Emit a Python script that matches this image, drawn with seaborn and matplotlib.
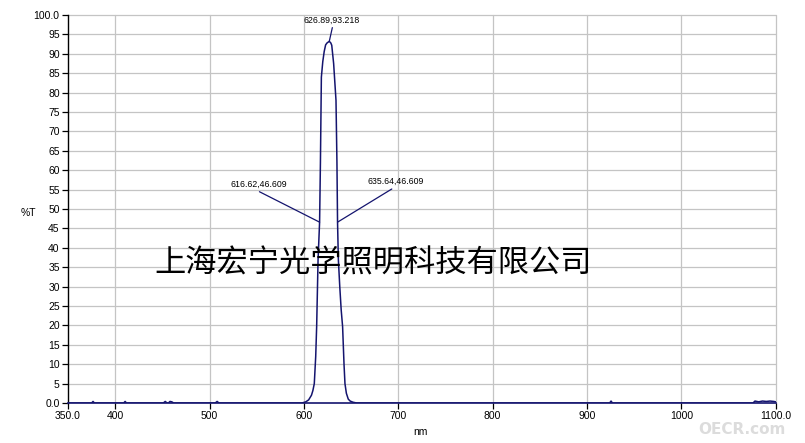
import matplotlib
matplotlib.use("Agg")
import matplotlib.pyplot as plt
import seaborn as sns
import pandas as pd

# Spectre de transmission
wavelength = [350, 375, 376.5, 378, 409, 410.5, 412, 451, 453, 455, 456.5, 458, 460, 462,
              506, 508, 510, 598, 602, 605, 608, 609.5, 611, 612.5, 613.5, 615, 616.62,
              617.5, 618.5, 620, 621.5, 623, 624.5, 626.89, 628.5, 629.5, 631.5, 634,
              635, 635.64, 636.5, 638, 639.5, 641, 642.5, 643.5, 645, 647, 649, 652, 656,
              700, 924, 925.5, 927, 1076, 1078, 1082, 1086, 1090, 1094, 1098, 1100]
transmission = [0.0, 0.0, 0.4, 0.0, 0.0, 0.4, 0.0, 0.0, 0.4, 0.0, 0.0, 0.4, 0.3, 0.0,
                0.0, 0.4, 0.0, 0.0, 0.3, 0.8, 2.0, 3.2, 5.0, 12.0, 19.7, 37.0, 46.609,
                62.0, 84.0, 88.0, 90.6, 92.3, 92.8, 93.218, 92.8, 92.2, 87.5, 78.0,
                62.0, 46.609, 37.0, 30.0, 24.0, 19.7, 10.0, 5.0, 2.5, 1.0, 0.5, 0.2, 0.0,
                0.0, 0.0, 0.5, 0.0, 0.0, 0.5, 0.3, 0.5, 0.4, 0.5, 0.4, 0.3]

x_ticks = [350, 400, 500, 600, 700, 800, 900, 1000, 1100]
x_labels = ["350.0", "400", "500", "600", "700", "800", "900", "1000", "1100.0"]
y_ticks = list(range(0, 105, 5))
y_labels = ["0.0"] + [str(v) for v in range(5, 100, 5)] + ["100.0"]

# pic et points a mi-hauteur
peak = (626.89, 93.218)
half_left = (616.62, 46.609)
half_right = (635.64, 46.609)

company = "上海宏宁光学照明科技有限公司"

sns.set_style("white")
plt.rcParams["font.family"] = ["Liberation Sans", "DejaVu Sans"]
plt.rcParams["text.color"] = "black"
plt.rcParams["xtick.color"] = "black"
plt.rcParams["ytick.color"] = "black"

df = pd.DataFrame({"nm": wavelength, "T": transmission})

fig = plt.figure(figsize=(8.05, 4.43), dpi=100)
ax = fig.add_axes([0.0845, 0.0903, 0.8791, 0.8758])

for x in x_ticks[1:]:
    ax.axvline(x, color="#c4c4c4", lw=0.9, zorder=0, clip_on=False)
for y in y_ticks[1:]:
    ax.axhline(y, color="#c4c4c4", lw=0.9, zorder=0, clip_on=False)

sns.lineplot(data=df, x="nm", y="T", ax=ax, color="#14146e", lw=1.1, zorder=3)

ax.set_xlim(350, 1100)
ax.set_ylim(0, 100)
ax.set_xticks(x_ticks)
ax.set_xticklabels(x_labels)
ax.set_yticks(y_ticks)
ax.set_yticklabels(y_labels)
ax.tick_params(axis="both", labelsize=7.5, length=4, width=0.9, colors="black",
               direction="out", pad=2, bottom=True, left=True)
ax.set_xlabel("")
ax.set_ylabel("")

for side in ["top", "right"]:
    ax.spines[side].set_visible(False)
ax.spines["left"].set_color("black")
ax.spines["bottom"].set_color("#14146e")
ax.spines["left"].set_linewidth(1.0)
ax.spines["bottom"].set_linewidth(1.2)

# annotations
line_kw = dict(arrowstyle="-", color="#14146e", lw=0.9, shrinkA=0, shrinkB=0)
ax.annotate(f"{peak[0]},{peak[1]}", xy=peak, xytext=(629.7, 97.6),
            ha="center", va="bottom", fontsize=6.3, color="black",
            arrowprops=dict(relpos=(0.52, 0), **line_kw))
ax.annotate(f"{half_left[0]},{half_left[1]}", xy=half_left, xytext=(552, 55.3),
            ha="center", va="bottom", fontsize=6.3, color="black",
            arrowprops=dict(relpos=(0.4, 0), **line_kw))
ax.annotate(f"{half_right[0]},{half_right[1]}", xy=half_right, xytext=(697, 56.0),
            ha="center", va="bottom", fontsize=6.3, color="black",
            arrowprops=dict(relpos=(0.53, 0), **line_kw))

fig.text(28 / 805, 1 - 213 / 443, "%T", ha="center", va="center", fontsize=7.5)
fig.text(420 / 805, 1 - 432 / 443, "nm", ha="center", va="center", fontsize=7.5)

fig.text(373 / 805, 1 - 263 / 443, company, ha="center", va="center",
         fontsize=22.5, family=["Noto Sans CJK SC", "DejaVu Sans"], color="black",
         zorder=5)
fig.text(742 / 805, 1 - 430 / 443, "OECR.com", ha="center", va="center",
         fontsize=11, fontweight="bold", color="#dcdcdc",
         family=["DejaVu Sans"])

fig.savefig("out.png", dpi=100)
